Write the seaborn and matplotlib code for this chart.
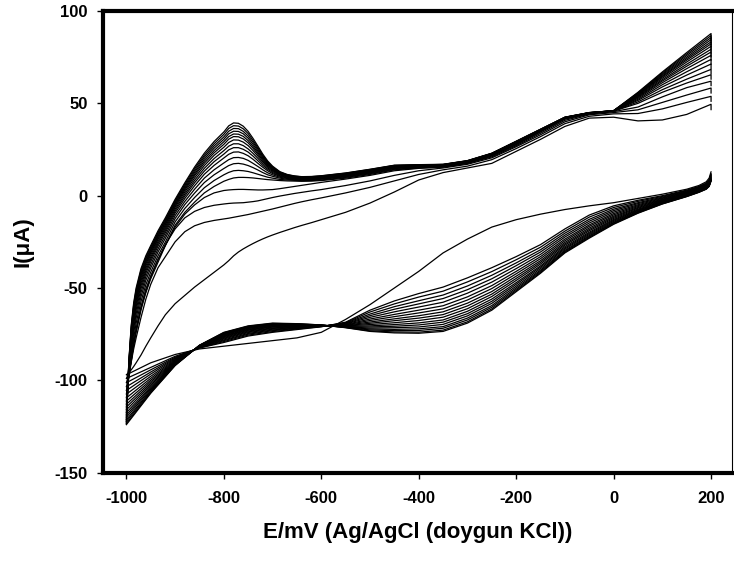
import numpy as np
import pandas as pd
import matplotlib
matplotlib.use("Agg")
import matplotlib.pyplot as plt
import seaborn as sns

# ---------------- data ----------------
N_CYCLES = 18

# Forward (anodic) sweep potentials, mV ; last point repeated = small hook at the vertex
E_FWD = [-1000, -995, -990, -985, -980, -970, -960, -950, -935, -920, -900, -880,
         -860, -840, -820, -800, -790, -780, -770, -760, -750, -740, -730, -720,
         -710, -700, -685, -670, -655, -640, -620, -600, -550, -500, -450, -400,
         -350, -300, -250, -200, -150, -100, -50, 0, 50, 100, 150, 200, 200]

# Forward-sweep currents (uA): one row per potential, values for cycles 1 .. 18
FWD_ROWS = [
    [-97, -99, -101.3, -103.5, -105.5, -107.5, -109.5, -111.3, -113.0, -114.5, -116.0, -117.5, -118.8, -120.0, -121.3, -122.3, -123.3, -124],
    [-95.8, -96, -97, -98, -99, -97.8, -96.7, -95.7, -94.8, -94.0, -93.4, -92.8, -92.3, -91.8, -91.4, -90.9, -90.5, -90],
    [-94.3, -90, -89, -89, -90, -87.4, -84.8, -82.6, -80.6, -79.0, -77.6, -76.2, -75.0, -74.0, -73.0, -72.0, -71.0, -70],
    [-92.5, -83, -81, -80, -80, -77.1, -74.3, -71.9, -69.7, -67.9, -66.4, -64.8, -63.5, -62.4, -61.3, -60.2, -59.1, -58],
    [-90.5, -77, -74, -73, -72, -69.1, -66.3, -63.9, -61.7, -59.9, -58.4, -56.8, -55.5, -54.4, -53.3, -52.2, -51.1, -50],
    [-86.3, -66, -62, -61, -60, -57.3, -54.7, -52.4, -50.4, -48.7, -47.3, -45.9, -44.6, -43.6, -42.6, -41.6, -40.5, -39.5],
    [-81.5, -56, -52, -52.5, -50.5, -48.2, -45.8, -43.8, -42.0, -40.6, -39.3, -38.1, -37.0, -36.1, -35.2, -34.3, -33.4, -32.5],
    [-77, -48, -44, -45, -43.5, -41.4, -39.2, -37.4, -35.7, -34.4, -33.3, -32.1, -31.1, -30.3, -29.5, -28.7, -27.8, -27],
    [-70.5, -39, -34.5, -36, -34.5, -32.5, -30.5, -28.8, -27.2, -26.0, -24.9, -23.8, -22.9, -22.1, -21.3, -20.6, -19.8, -19],
    [-64.5, -33, -26.5, -27, -27, -25.1, -23.1, -21.5, -20.0, -18.8, -17.7, -16.7, -15.8, -15.0, -14.3, -13.5, -12.8, -12],
    [-58.5, -25, -18, -17, -16, -14.2, -12.4, -10.8, -9.4, -8.3, -7.3, -6.3, -5.5, -4.8, -4.1, -3.4, -2.7, -2],
    [-54, -19.5, -12, -10, -9, -6.9, -4.8, -3.1, -1.5, -0.2, 0.9, 2.0, 3.0, 3.8, 4.6, 5.4, 6.2, 7],
    [-49.5, -16.3, -8.5, -5, -3.5, -1.0, 1.4, 3.5, 5.4, 7.0, 8.3, 9.6, 10.8, 11.7, 12.7, 13.6, 14.6, 15.5],
    [-45.5, -14.5, -6.4, -1, 1.5, 4.3, 7.1, 9.5, 11.6, 13.3, 14.8, 16.3, 17.6, 18.7, 19.8, 20.9, 21.9, 23],
    [-41.5, -13.4, -5.2, 1.5, 5, 8.2, 11.3, 14.0, 16.4, 18.4, 20.1, 21.8, 23.2, 24.4, 25.7, 26.9, 28.1, 29.3],
    [-37.5, -12.6, -4.5, 2.8, 7.8, 11.3, 14.7, 17.7, 20.4, 22.5, 24.4, 26.2, 27.8, 29.2, 30.5, 31.8, 33.2, 34.5],
    [-35.2, -12.2, -4.2, 3.1, 8.8, 12.6, 16.3, 19.5, 22.4, 24.8, 26.8, 28.8, 30.6, 32.0, 33.5, 34.9, 36.4, 37.8],
    [-32.6, -11.7, -4, 3.3, 9.6, 13.5, 17.3, 20.6, 23.6, 26.0, 28.1, 30.2, 32.0, 33.4, 34.9, 36.4, 37.9, 39.4],
    [-30.5, -11.2, -3.9, 3.4, 9.9, 13.7, 17.5, 20.7, 23.7, 26.0, 28.1, 30.1, 31.9, 33.3, 34.8, 36.3, 37.7, 39.2],
    [-28.8, -10.7, -3.8, 3.4, 9.9, 13.5, 17.1, 20.2, 22.9, 25.1, 27.1, 29.0, 30.7, 32.1, 33.5, 34.8, 36.2, 37.6],
    [-27.3, -10.2, -3.5, 3.3, 9.8, 13.1, 16.3, 19.1, 21.6, 23.6, 25.3, 27.1, 28.6, 29.8, 31.1, 32.3, 33.6, 34.8],
    [-25.9, -9.6, -3.2, 3.2, 9.6, 12.4, 15.2, 17.5, 19.7, 21.4, 22.9, 24.4, 25.7, 26.7, 27.8, 28.9, 29.9, 31],
    [-24.6, -9, -2.8, 3.1, 9.3, 11.6, 13.9, 15.8, 17.5, 18.9, 20.2, 21.4, 22.4, 23.3, 24.2, 25.1, 25.9, 26.8],
    [-23.4, -8.4, -2.2, 3.1, 9, 10.8, 12.5, 14.0, 15.4, 16.4, 17.4, 18.3, 19.1, 19.8, 20.5, 21.2, 21.8, 22.5],
    [-22.3, -7.8, -1.6, 3.2, 8.7, 10.0, 11.3, 12.4, 13.5, 14.3, 15.0, 15.7, 16.3, 16.8, 17.3, 17.8, 18.3, 18.8],
    [-21.3, -7.2, -1, 3.3, 8.5, 9.5, 10.5, 11.3, 12.0, 12.6, 13.2, 13.7, 14.1, 14.5, 14.9, 15.3, 15.6, 16],
    [-19.9, -6.2, -0.2, 3.8, 8.2, 8.8, 9.5, 10.0, 10.5, 10.8, 11.2, 11.5, 11.8, 12.0, 12.3, 12.5, 12.8, 13],
    [-18.6, -5.2, 0.5, 4.4, 8, 8.5, 8.9, 9.3, 9.6, 9.9, 10.2, 10.4, 10.6, 10.8, 11.0, 11.2, 11.3, 11.5],
    [-17.3, -4.2, 1.2, 5, 7.9, 8.3, 8.6, 8.9, 9.2, 9.4, 9.6, 9.8, 10.0, 10.1, 10.3, 10.4, 10.6, 10.7],
    [-16.1, -3.3, 1.8, 5.6, 7.8, 8.1, 8.5, 8.7, 9.0, 9.2, 9.4, 9.5, 9.7, 9.8, 9.9, 10.1, 10.2, 10.3],
    [-14.6, -2.2, 2.6, 6.4, 7.9, 8.2, 8.6, 8.8, 9.1, 9.3, 9.5, 9.6, 9.8, 9.9, 10.0, 10.2, 10.3, 10.4],
    [-13, -1.2, 3.3, 7.2, 8.2, 8.5, 8.9, 9.2, 9.4, 9.6, 9.8, 10.0, 10.2, 10.3, 10.4, 10.5, 10.7, 10.8],
    [-9, 1.5, 5.5, 9, 9.5, 9.9, 10.2, 10.5, 10.8, 11.0, 11.2, 11.4, 11.6, 11.7, 11.9, 12.0, 12.2, 12.3],
    [-4, 4.5, 8, 11, 11.5, 11.9, 12.2, 12.5, 12.8, 13.0, 13.2, 13.4, 13.6, 13.7, 13.9, 14.0, 14.2, 14.3],
    [2, 8, 11, 13.5, 14, 14.3, 14.7, 14.9, 15.2, 15.4, 15.6, 15.7, 15.9, 16.0, 16.1, 16.3, 16.4, 16.5],
    [8.5, 11.5, 13.5, 14.8, 15, 15.2, 15.5, 15.7, 15.8, 16.0, 16.1, 16.2, 16.4, 16.4, 16.5, 16.6, 16.7, 16.8],
    [12.5, 14, 15, 15.5, 15.5, 15.7, 15.9, 16.1, 16.2, 16.3, 16.4, 16.5, 16.6, 16.7, 16.8, 16.9, 16.9, 17],
    [15, 16, 17, 17.5, 17.5, 17.7, 17.9, 18.1, 18.2, 18.3, 18.4, 18.5, 18.6, 18.7, 18.8, 18.9, 18.9, 19],
    [17.5, 19.5, 20.5, 21, 21.5, 21.7, 21.9, 22.1, 22.2, 22.3, 22.4, 22.5, 22.6, 22.7, 22.8, 22.9, 22.9, 23],
    [24, 25.5, 26.5, 27, 27.5, 27.8, 28.0, 28.2, 28.4, 28.6, 28.7, 28.9, 29.0, 29.1, 29.2, 29.3, 29.4, 29.5],
    [30.5, 32, 33, 33.8, 34.5, 34.7, 34.9, 35.1, 35.2, 35.3, 35.4, 35.5, 35.6, 35.7, 35.8, 35.9, 35.9, 36],
    [37.5, 39, 40, 40.8, 41.5, 41.6, 41.8, 41.9, 42.0, 42.1, 42.1, 42.2, 42.3, 42.3, 42.4, 42.4, 42.5, 42.5],
    [42, 43, 43.8, 44.2, 44.5, 44.6, 44.6, 44.7, 44.7, 44.8, 44.8, 44.8, 44.9, 44.9, 44.9, 45.0, 45.0, 45],
    [42.5, 44.3, 45, 45.5, 45.8, 45.8, 45.9, 45.9, 45.9, 45.9, 45.9, 45.9, 46.0, 46.0, 46.0, 46.0, 46.0, 46],
    [40.5, 44.5, 46.5, 48, 50, 50.8, 51.6, 52.2, 52.8, 53.3, 53.7, 54.1, 54.5, 54.8, 55.1, 55.4, 55.7, 56],
    [41, 47, 50.5, 53.5, 56, 57.4, 58.9, 60.1, 61.2, 62.1, 62.8, 63.6, 64.3, 64.8, 65.4, 65.9, 66.5, 67],
    [44, 50.5, 54.5, 58.5, 61, 63.1, 65.3, 67.1, 68.8, 70.1, 71.2, 72.4, 73.4, 74.2, 75.0, 75.9, 76.7, 77.5],
    [49.5, 53.8, 58.3, 62, 65.5, 68.4, 71.3, 73.8, 76.0, 77.8, 79.3, 80.9, 82.2, 83.3, 84.5, 85.6, 86.7, 87.8],
    [46.5, 51, 55.5, 59.5, 63, 65.9, 68.7, 71.1, 73.3, 75.1, 76.6, 78.2, 79.5, 80.6, 81.7, 82.8, 83.9, 85],
]

# Reverse (cathodic) sweep potentials, mV
E_REV = [200, 196, 190, 175, 150, 100, 50, 0, -50, -100, -150, -200, -250, -300,
         -350, -400, -450, -500, -550, -600, -650, -700, -750, -800, -850, -900,
         -950, -1000]

# Reverse-sweep currents (uA): one row per potential, values for cycles 1 .. 18
REV_ROWS = [
    [13, 12, 11.6, 11.3, 11.0, 10.6, 10.3, 10.0, 9.8, 9.5, 9.3, 9.0, 8.8, 8.6, 8.4, 8.3, 8.1, 8],
    [9.5, 8.5, 8.2, 7.9, 7.6, 7.3, 7.0, 6.8, 6.5, 6.3, 6.1, 5.9, 5.7, 5.6, 5.4, 5.2, 5.1, 5],
    [7.5, 6.8, 6.5, 6.2, 5.9, 5.7, 5.4, 5.2, 5.0, 4.8, 4.6, 4.4, 4.2, 4.0, 3.9, 3.7, 3.6, 3.5],
    [5.5, 5, 4.7, 4.4, 4.2, 3.9, 3.7, 3.4, 3.2, 3.0, 2.8, 2.6, 2.5, 2.3, 2.2, 2.0, 1.9, 1.8],
    [3.5, 3, 2.7, 2.4, 2.1, 1.8, 1.5, 1.3, 1.0, 0.8, 0.6, 0.4, 0.2, 0.1, -0.1, -0.3, -0.4, -0.5],
    [0.8, 0, -0.4, -0.8, -1.2, -1.5, -1.9, -2.2, -2.5, -2.8, -3.1, -3.3, -3.6, -3.8, -4.0, -4.2, -4.4, -4.5],
    [-1.5, -2.5, -3.1, -3.8, -4.3, -4.9, -5.4, -5.9, -6.4, -6.8, -7.3, -7.7, -8.0, -8.4, -8.7, -9.0, -9.3, -9.5],
    [-3.8, -5.5, -6.4, -7.3, -8.1, -8.9, -9.7, -10.4, -11.1, -11.7, -12.3, -12.9, -13.4, -13.9, -14.4, -14.8, -15.2, -15.5],
    [-5.5, -10.5, -11.6, -12.8, -13.8, -14.8, -15.8, -16.6, -17.5, -18.3, -19.0, -19.8, -20.4, -21.0, -21.6, -22.1, -22.6, -23],
    [-7.5, -18, -19.2, -20.3, -21.4, -22.4, -23.5, -24.4, -25.3, -26.1, -26.8, -27.6, -28.3, -28.9, -29.6, -30.1, -30.6, -31],
    [-10, -26.5, -27.9, -29.3, -30.5, -31.8, -33.0, -34.1, -35.2, -36.1, -37.0, -38.0, -38.7, -39.5, -40.3, -40.9, -41.5, -42],
    [-13, -33, -34.7, -36.4, -37.9, -39.5, -41.0, -42.3, -43.6, -44.8, -45.9, -47.1, -48.0, -49.0, -49.9, -50.7, -51.4, -52],
    [-17, -39, -41.1, -43.1, -45.0, -46.8, -48.7, -50.3, -51.9, -53.3, -54.6, -56.0, -57.2, -58.3, -59.5, -60.4, -61.3, -62],
    [-23.5, -44.5, -46.7, -48.9, -50.9, -52.8, -54.8, -56.5, -58.2, -59.7, -61.2, -62.6, -63.9, -65.1, -66.3, -67.3, -68.3, -69],
    [-31, -49.5, -51.7, -53.8, -55.7, -57.7, -59.6, -61.3, -62.9, -64.4, -65.8, -67.3, -68.5, -69.7, -70.9, -71.8, -72.8, -73.5],
    [-41, -53, -54.9, -56.9, -58.6, -60.3, -62.0, -63.5, -65.0, -66.3, -67.6, -68.9, -70.0, -71.1, -72.1, -73.0, -73.9, -74.5],
    [-50, -57, -58.6, -60.1, -61.5, -62.9, -64.3, -65.5, -66.7, -67.7, -68.8, -69.8, -70.7, -71.5, -72.4, -73.1, -73.8, -74.3],
    [-59, -62, -63.0, -64.1, -65.0, -65.9, -66.8, -67.6, -68.4, -69.1, -69.8, -70.5, -71.1, -71.7, -72.2, -72.7, -73.2, -73.5],
    [-67, -68.5, -68.8, -69.0, -69.3, -69.5, -69.8, -70.0, -70.2, -70.4, -70.5, -70.7, -70.9, -71.0, -71.2, -71.3, -71.4, -71.5],
    [-74, -71, -70.9, -70.8, -70.7, -70.7, -70.6, -70.5, -70.4, -70.4, -70.3, -70.3, -70.2, -70.2, -70.1, -70.1, -70.0, -70],
    [-77, -72.5, -72.2, -71.9, -71.7, -71.4, -71.2, -70.9, -70.7, -70.5, -70.3, -70.1, -70.0, -69.8, -69.7, -69.5, -69.4, -69.3],
    [-78.5, -74, -73.6, -73.1, -72.7, -72.3, -71.9, -71.6, -71.2, -70.9, -70.6, -70.3, -70.1, -69.8, -69.6, -69.4, -69.2, -69],
    [-80, -76, -75.5, -75.0, -74.6, -74.1, -73.7, -73.3, -72.9, -72.6, -72.3, -71.9, -71.7, -71.4, -71.1, -70.9, -70.7, -70.5],
    [-81.5, -79.5, -79.0, -78.5, -78.1, -77.6, -77.2, -76.8, -76.4, -76.1, -75.8, -75.4, -75.2, -74.9, -74.6, -74.4, -74.2, -74],
    [-83, -82.5, -82.4, -82.2, -82.1, -82.0, -81.9, -81.8, -81.7, -81.6, -81.5, -81.4, -81.3, -81.2, -81.2, -81.1, -81.0, -81],
    [-86, -87, -87.5, -87.9, -88.3, -88.7, -89.1, -89.5, -89.8, -90.1, -90.4, -90.7, -91.0, -91.2, -91.5, -91.7, -91.9, -92],
    [-90.5, -93, -94.3, -95.5, -96.6, -97.8, -98.9, -99.9, -100.8, -101.7, -102.5, -103.4, -104.1, -104.8, -105.5, -106.0, -106.6, -107],
    [-97, -99, -101.3, -103.5, -105.5, -107.5, -109.5, -111.3, -113.0, -114.5, -116.0, -117.5, -118.8, -120.0, -121.3, -122.3, -123.3, -124],
]

X_TICKS = [-1000, -800, -600, -400, -200, 0, 200]
Y_TICKS = [-150, -100, -50, 0, 50, 100]
X_LABEL = "E/mV (Ag/AgCl (doygun KCl))"
Y_LABEL = "I(\u03bcA)"

# ---------------- build long table ----------------
fwd = np.array(FWD_ROWS, dtype=float)
rev = np.array(REV_ROWS, dtype=float)
assert fwd.shape == (len(E_FWD), N_CYCLES), fwd.shape
assert rev.shape == (len(E_REV), N_CYCLES), rev.shape

frames = []
for c in range(N_CYCLES):
    frames.append(pd.DataFrame({"E": E_FWD, "I": fwd[:, c], "trace": f"f{c}"}))
    frames.append(pd.DataFrame({"E": E_REV, "I": rev[:, c], "trace": f"r{c}"}))
df = pd.concat(frames, ignore_index=True)

# ---------------- plot ----------------
sns.set_style("ticks")
plt.rcParams["font.family"] = ["Liberation Sans", "DejaVu Sans"]
for key in ["text.color", "axes.labelcolor", "xtick.color", "ytick.color", "axes.edgecolor"]:
    plt.rcParams[key] = "black"

fig = plt.figure(figsize=(7.34, 5.65), dpi=100)
ax = fig.add_axes([0.1403, 0.1634, 0.857, 0.8171])

sns.lineplot(data=df, x="E", y="I", units="trace", estimator=None, sort=False,
             color="black", linewidth=0.9, legend=False, ax=ax)

ax.set_xlim(-1048, 243)
ax.set_ylim(-150, 100)
ax.set_xticks(X_TICKS)
ax.set_yticks(Y_TICKS)
ax.set_xticklabels([str(t) for t in X_TICKS])
ax.set_yticklabels([str(t) for t in Y_TICKS])

for side in ["left", "top", "bottom"]:
    ax.spines[side].set_linewidth(3.0)
    ax.spines[side].set_color("black")
ax.spines["right"].set_linewidth(0.8)
ax.spines["right"].set_color("black")

ax.tick_params(axis="both", direction="out", length=4, width=1.0, color="black",
               labelsize=12, labelcolor="black")
ax.tick_params(axis="y", pad=7)
ax.tick_params(axis="x", pad=9)
for lab in ax.get_xticklabels() + ax.get_yticklabels():
    lab.set_fontweight("bold")

ax.set_xlabel(X_LABEL, fontsize=16, fontweight="bold", labelpad=12, color="black")
ax.set_ylabel(Y_LABEL, fontsize=16, fontweight="bold", labelpad=15, color="black")

fig.savefig("out.png", dpi=100)
